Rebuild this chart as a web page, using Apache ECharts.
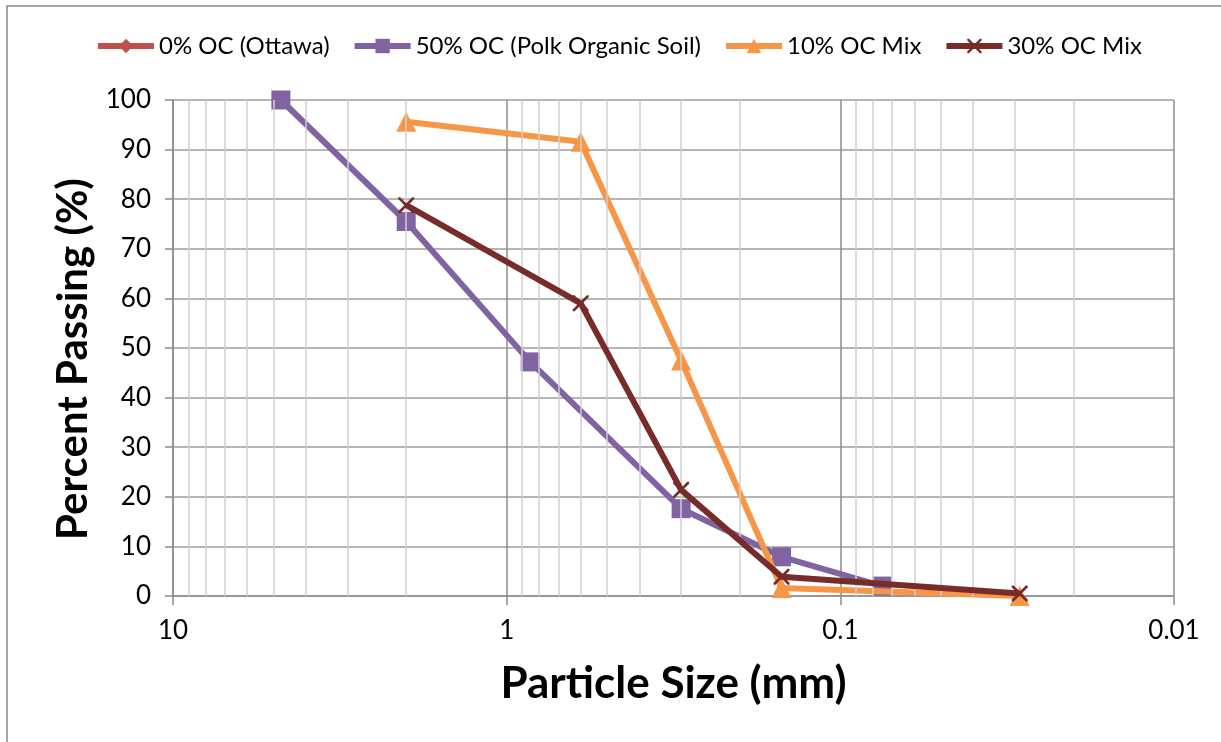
<!DOCTYPE html>
<html>
<head>
<meta charset="utf-8">
<script src="https://cdn.jsdelivr.net/npm/echarts@6/dist/echarts.min.js"></script>
<style>
  html, body { margin: 0; padding: 0; background: #fff; }
  #chart { width: 1221px; height: 742px; }
</style>
</head>
<body>
<div id="chart"></div>
<script>
// Grain size distribution: particle size (mm) vs. percent passing
const seriesNames = ['0% OC (Ottawa)', '50% OC (Polk Organic Soil)', '10% OC Mix', '30% OC Mix'];

// [particle size (mm), percent passing]
const ottawa0 = [];
const polk50 = [[4.75, 100], [2.0, 75.5], [0.85, 47.2], [0.3, 17.6], [0.15, 7.9], [0.075, 2.0]];
const mix10 = [[2.0, 95.6], [0.6, 91.6], [0.3, 47.5], [0.15, 1.6], [0.029, 0]];
const mix30 = [[2.0, 78.8], [0.6, 59.0], [0.3, 21.4], [0.15, 3.9], [0.029, 0.5]];

const xTickLabels = ['10', '1', '0.1', '0.01'];
const yTicks = [0, 10, 20, 30, 40, 50, 60, 70, 80, 90, 100];
// log-cycle subdivisions (2..9 within each decade)
const minorSizes = [9, 8, 7, 6, 5, 4, 3, 2, 0.9, 0.8, 0.7, 0.6, 0.5, 0.4, 0.3, 0.2,
                    0.09, 0.08, 0.07, 0.06, 0.05, 0.04, 0.03, 0.02];

const FONT = 'Lato, "Open Sans", sans-serif';
const colors = ['#c0504d', '#8064a2', '#f79646', '#772c2a'];
const crossPath = 'path://M0,0L1.2,0L5,3.8L8.8,0L10,0L10,1.2L6.2,5L10,8.8L10,10L8.8,10L5,6.2L1.2,10L0,10L0,8.8L3.8,5L0,1.2Z';

const chart = echarts.init(document.getElementById('chart'), null, { renderer: 'canvas' });

function lineSeries(name, data, color, symbol, size, extra) {
  return Object.assign({
    name: name,
    type: 'line',
    data: data,
    symbol: symbol,
    symbolSize: size,
    showAllSymbol: true,
    lineStyle: { color: color, width: 6 },
    itemStyle: { color: color },
    emphasis: { disabled: true },
    animation: false
  }, extra || {});
}

const option = {
  animation: false,
  color: colors,
  graphic: [{
    type: 'rect',
    shape: { x: 7, y: 6, width: 1240, height: 760 },
    style: { fill: 'none', stroke: '#868686', lineWidth: 1.5 },
    silent: true,
    z: -10
  }],
  legend: {
    top: 34,
    left: 95,
    padding: 0,
    itemWidth: 56,
    itemHeight: 18,
    itemGap: 22,
    lineStyle: { width: 6 },
    textStyle: { fontFamily: FONT, fontSize: 24, color: '#000' },
    data: seriesNames
  },
  grid: { left: 173, right: 47, top: 100, bottom: 146, containLabel: false },
  xAxis: {
    type: 'log',
    logBase: 10,
    min: 0.01,
    max: 10,
    inverse: true,
    name: 'Particle Size (mm)',
    nameLocation: 'middle',
    nameGap: 66,
    nameTextStyle: { fontFamily: FONT, fontSize: 44, fontWeight: 'bold', color: '#000' },
    axisLine: { show: true, lineStyle: { color: '#8c8c8c', width: 1.5 } },
    axisTick: { show: true, inside: false, length: 9, lineStyle: { color: '#8c8c8c', width: 1.5 } },
    axisLabel: {
      margin: 22,
      fontFamily: FONT, fontSize: 26, color: '#000',
      formatter: function (v) {
        for (const t of xTickLabels) {
          if (Math.abs(Math.log10(v) - Math.log10(parseFloat(t))) < 1e-6) return t;
        }
        return '';
      }
    },
    splitLine: { show: true, lineStyle: { color: '#8c8c8c', width: 1.5 } },
    minorTick: { show: false },
    minorSplitLine: { show: false }
  },
  yAxis: {
    type: 'value',
    min: yTicks[0],
    max: yTicks[yTicks.length - 1],
    interval: 10,
    name: 'Percent Passing (%)',
    nameLocation: 'middle',
    nameGap: 76,
    nameTextStyle: { fontFamily: FONT, fontSize: 42, fontWeight: 'bold', color: '#000', padding: [0, 22, 0, 0] },
    axisLine: { show: true, lineStyle: { color: '#8c8c8c', width: 1.5 } },
    axisTick: { show: true, inside: false, length: 8, lineStyle: { color: '#8c8c8c', width: 1.5 } },
    axisLabel: { margin: 22, fontFamily: FONT, fontSize: 26, color: '#000' },
    splitLine: { show: true, lineStyle: { color: '#9c9c9c', width: 1.5 } }
  },
  series: [
    // light gridlines at the log-cycle subdivisions
    {
      type: 'line',
      data: [],
      silent: true,
      z: 1,
      markLine: {
        silent: true,
        symbol: ['none', 'none'],
        label: { show: false },
        lineStyle: { color: '#cfcfcf', width: 1.5, type: 'solid' },
        emphasis: { disabled: true },
        animation: false,
        data: minorSizes.map(v => ({ xAxis: v }))
      }
    },
    lineSeries(seriesNames[0], ottawa0, colors[0], 'diamond', 16, { z: 2 }),
    lineSeries(seriesNames[1], polk50, colors[1], 'rect', 19, { z: 3 }),
    lineSeries(seriesNames[2], mix10, colors[2], 'triangle', 20, { z: 4 }),
    lineSeries(seriesNames[3], mix30, colors[3], crossPath, 16, { z: 5 })
  ]
};

chart.setOption(option);
</script>
</body>
</html>
